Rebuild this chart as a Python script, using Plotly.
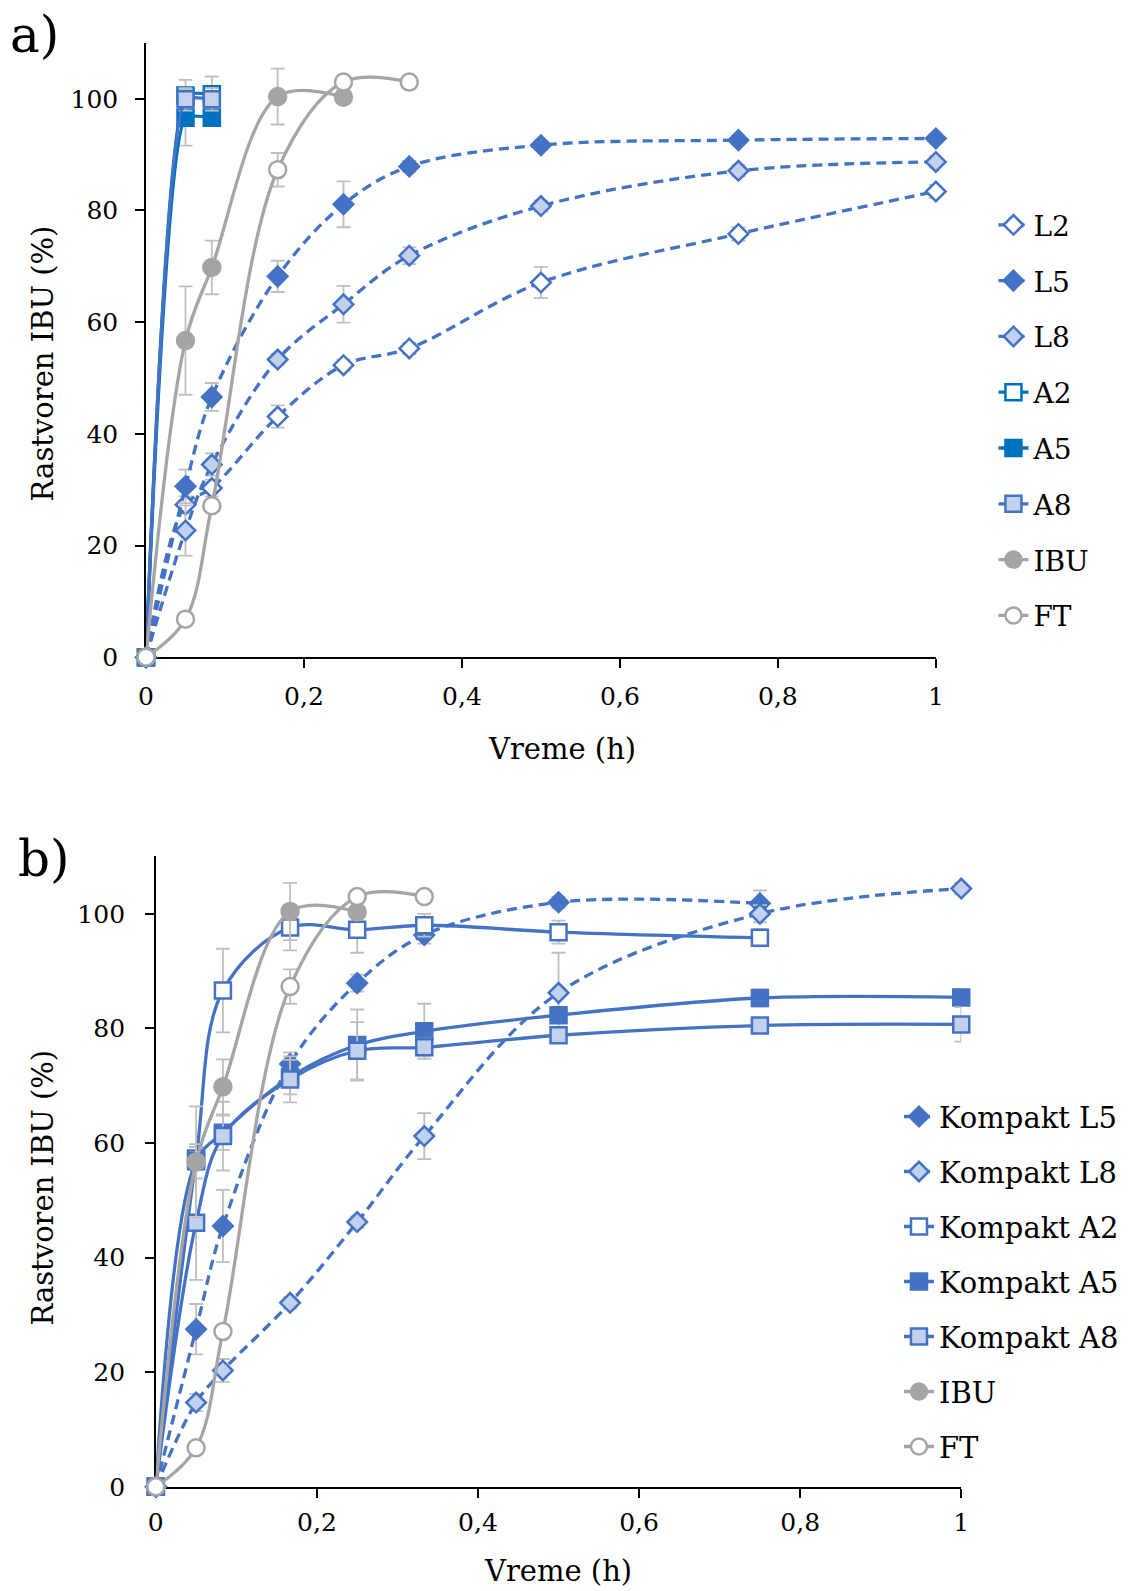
import plotly.graph_objects as go

# ---------------- data ----------------
# panel a
t_L = [0, 0.05, 0.0833, 0.1667, 0.25, 0.3333, 0.5, 0.75, 1]
L2 = [0, 27.3, 30.3, 43.1, 52.3, 55.3, 67.1, 75.8, 83.4]
L2_err = [0, 1.5, 1.5, 2.0, 1.0, 1.0, 2.8, 1.2, 1.2]
L5 = [0, 30.6, 46.6, 68.2, 81.1, 87.9, 91.7, 92.6, 92.9]
L5_err = [0, 3.0, 2.5, 2.8, 4.1, 1.0, 0.8, 0.8, 0.8]
L8 = [0, 22.7, 34.5, 53.3, 63.2, 71.9, 80.8, 87.1, 88.7]
L8_err = [0, 4.5, 2.0, 1.0, 3.3, 1.5, 1.0, 1.0, 1.0]

t_A = [0, 0.05, 0.0833]
A2 = [0, 100.6, 100.8]
A2_err = [0, 2.8, 3.2]
A5 = [0, 96.6, 96.6]
A5_err = [0, 5.0, 1.0]
A8 = [0, 99.9, 99.9]
A8_err = [0, 2.0, 2.0]

t_IBU = [0, 0.05, 0.0833, 0.1667, 0.25]
IBU = [0, 56.7, 69.8, 100.4, 100.3]
IBU_err = [0, 9.7, 4.8, 5.0, 1.0]
t_FT = [0, 0.05, 0.0833, 0.1667, 0.25, 0.3333]
FT = [0, 6.8, 27.1, 87.3, 103.0, 103.0]
FT_err = [0, 1.0, 1.0, 3.0, 1.0, 1.0]

# panel b
t_K = [0, 0.05, 0.0833, 0.1667, 0.25, 0.3333, 0.5, 0.75, 1]
KL5 = [0, 27.5, 45.5, 73.8, 87.9, 96.3, 102.0, 101.8]
KL5_err = [0, 4.4, 6.3, 2.0, 1.5, 1.5, 1.0, 2.3]
KL8 = [0, 14.7, 20.3, 32.1, 46.2, 61.2, 86.2, 100.0, 104.4]
KL8_err = [0, 1.5, 2.0, 1.0, 1.0, 4.0, 7.0, 1.5, 1.0]
KA2 = [0, 57.3, 86.6, 97.6, 97.2, 98.0, 96.8, 95.8]
KA2_err = [0, 2.0, 7.3, 4.0, 4.0, 2.0, 2.0, 1.5]
KA5 = [0, 56.8, 61.8, 71.5, 77.1, 79.5, 82.3, 85.3, 85.4]
KA5_err = [0, 3.0, 3.0, 3.0, 6.2, 4.8, 1.0, 1.5, 1.5]
KA8 = [0, 46.1, 61.2, 71.1, 76.1, 76.7, 78.8, 80.5, 80.7]
KA8_err = [0, 10.0, 6.0, 4.0, 5.0, 1.5, 1.0, 1.0, 3.0]

x_ticks = [0, 0.2, 0.4, 0.6, 0.8, 1]
y_ticks = [0, 20, 40, 60, 80, 100]

# ---------------- styles ----------------
BLUE = "#4472C4"
DBLUE = "#0070C0"
GREY = "#A5A5A5"
EGREY = "#BFBFBF"
PAT = "#C2D1EE"
FONT = "DejaVu Serif"
DASH = "10px,6px"


def add(x, y, err, name, color, dash, symbol, fill, size, xa, ya, legend, smooth=1):
    fig.add_trace(go.Scatter(
        x=x, y=y, name=name, mode="lines+markers",
        xaxis=xa, yaxis=ya, legend=legend, legendgroup=legend + name,
        line=dict(color=color, width=3.3, dash=dash, shape="spline", smoothing=smooth),
        marker=dict(symbol=symbol, size=size, color=fill,
                    line=dict(color=color, width=2.5)),
        error_y=dict(type="data", array=err, color=EGREY, thickness=1.8, width=7),
        cliponaxis=False,
    ))


fig = go.Figure()

# panel a
add(t_L, L2, L2_err, "L2", BLUE, DASH, "diamond", "white", 15, "x", "y", "legend")
add(t_L, L5, L5_err, "L5", BLUE, DASH, "diamond", BLUE, 15, "x", "y", "legend")
add(t_L, L8, L8_err, "L8", BLUE, DASH, "diamond", PAT, 15, "x", "y", "legend")
add(t_A, A2, A2_err, "A2", DBLUE, "solid", "square", "white", 16, "x", "y", "legend", 0.5)
add(t_A, A5, A5_err, "A5", DBLUE, "solid", "square", DBLUE, 16, "x", "y", "legend", 0.5)
add(t_A, A8, A8_err, "A8", BLUE, "solid", "square", PAT, 16, "x", "y", "legend", 0.5)
add(t_IBU, IBU, IBU_err, "IBU", GREY, "solid", "circle", GREY, 17, "x", "y", "legend")
add(t_FT, FT, FT_err, "FT", GREY, "solid", "circle", "white", 17, "x", "y", "legend")

# panel b
add(t_K[:len(KL5)], KL5, KL5_err, "Kompakt L5", BLUE, DASH, "diamond", BLUE, 15, "x2", "y2", "legend2")
add(t_K, KL8, KL8_err, "Kompakt L8", BLUE, DASH, "diamond", PAT, 15, "x2", "y2", "legend2")
add(t_K[:len(KA2)], KA2, KA2_err, "Kompakt A2", BLUE, "solid", "square", "white", 16, "x2", "y2", "legend2")
add(t_K, KA5, KA5_err, "Kompakt A5", BLUE, "solid", "square", BLUE, 16, "x2", "y2", "legend2")
add(t_K, KA8, KA8_err, "Kompakt A8", BLUE, "solid", "square", PAT, 16, "x2", "y2", "legend2")
add(t_IBU, IBU, IBU_err, "IBU", GREY, "solid", "circle", GREY, 17, "x2", "y2", "legend2")
add(t_FT, FT, FT_err, "FT", GREY, "solid", "circle", "white", 17, "x2", "y2", "legend2")

W, H = 1130, 1607

axis_common = dict(
    showline=True, linecolor="black", linewidth=1.5, showgrid=False, zeroline=False,
    ticks="outside", ticklen=9, tickwidth=1.5, tickcolor="black",
    tickfont=dict(family=FONT, size=25, color="black"), layer="below traces",
)


def ann(text, x, y, size, angle=0):
    return dict(text=text, x=x, y=y, xref="paper", yref="paper", xanchor="center",
                yanchor="middle", showarrow=False, textangle=angle,
                font=dict(family=FONT, size=size, color="black"))


fig.update_layout(
    width=W, height=H, margin=dict(l=0, r=0, t=0, b=0),
    paper_bgcolor="white", plot_bgcolor="white", separators=", ",
    font=dict(family=FONT, color="black"),
    xaxis=dict(domain=[0.1239, 0.8329], range=[0, 1], tickvals=x_ticks,
               ticklabelstandoff=7, anchor="y", **axis_common),
    yaxis=dict(domain=[0.5872, 0.9730], range=[0, 110], tickvals=y_ticks,
               ticklabelstandoff=12, anchor="x", **axis_common),
    xaxis2=dict(domain=[0.1327, 0.8557], range=[0, 1], tickvals=x_ticks,
                ticklabelstandoff=3, anchor="y2", **axis_common),
    yaxis2=dict(domain=[0.0661, 0.4620], range=[0, 110], tickvals=y_ticks,
                ticklabelstandoff=15, anchor="x2", **axis_common),
    legend=dict(x=0.8846, y=0.8743, xanchor="left", yanchor="top",
                font=dict(family=FONT, size=28, color="black"),
                tracegroupgap=16.4, bgcolor="rgba(0,0,0,0)"),
    legend2=dict(x=0.7998, y=0.3146, xanchor="left", yanchor="top",
                 font=dict(family=FONT, size=29, color="black"),
                 tracegroupgap=14.3, bgcolor="rgba(0,0,0,0)"),
    annotations=[
        ann("a)", 0.0242, 0.9780, 50),
        ann("b)", 0.0324, 0.4607, 50),
        ann("Rastvoren IBU (%)", 0.0315, 0.7718, 29, -90),
        ann("Vreme (h)", 0.4970, 0.5295, 29),
        ann("Rastvoren IBU (%)", 0.0315, 0.2541, 29, -90),
        ann("Vreme (h)", 0.4935, 0.0132, 29),
    ],
)

fig.write_html(
    "out.html",
    config={"displayModeBar": False},
    post_script=(
        "document.body.style.margin='0';"
        "document.body.style.overflow='hidden';"
        "var d=document.querySelector('.plotly-graph-div');"
        "d.style.position='fixed';d.style.left='0px';d.style.top='0px';"
    ),
)
